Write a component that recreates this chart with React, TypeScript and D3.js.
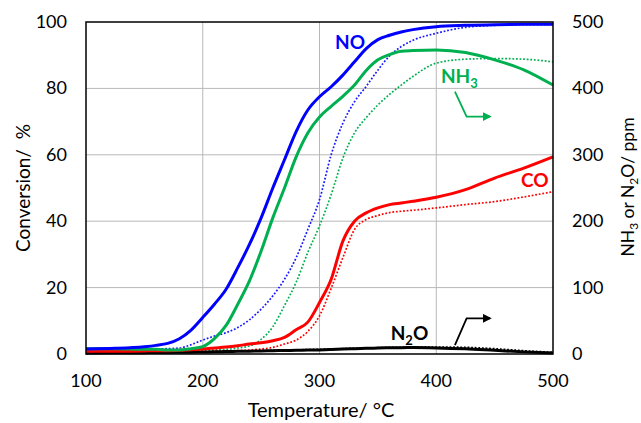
import React, { useEffect, useRef } from "react";
import * as d3 from "d3";

// temperatures (°C) shared by every series
const temps = [100, 125, 150, 160, 170, 180, 190, 200, 210, 220, 230, 240, 250, 260, 270, 280, 290, 300, 310, 320, 330, 340, 350, 360, 370, 380, 400, 425, 450, 475, 500];

// conversion, %
const noSolid = [1.5, 1.7, 2.2, 2.6, 3.2, 4.6, 7.2, 11, 15, 19.5, 26, 33, 41, 50, 58.5, 67, 73.5, 77.5, 80.5, 84, 88, 92, 94.7, 96, 97, 97.7, 98.6, 99, 99.2, 99.3, 99.3];
const noDotted = [1.0, 1.1, 1.3, 1.5, 1.6, 1.8, 2.8, 4.2, 5.4, 6.4, 8, 10.3, 13.5, 17.5, 22.5, 29, 37.5, 46.5, 60, 69.5, 76, 80.6, 85.5, 89.8, 92.6, 94.5, 96.6, 98.4, 99, 99.2, 99.2];
const coSolid = [0.8, 0.8, 0.9, 1.0, 1.0, 1.1, 1.3, 1.5, 1.8, 2.1, 2.5, 3.0, 3.4, 4.0, 5.0, 7.3, 9.6, 15.5, 22.5, 34, 40, 42.5, 44, 45, 45.5, 46, 47.2, 49.5, 53, 56, 59.4];
const coDotted = [0.5, 0.5, 0.5, 0.5, 0.5, 0.5, 0.6, 0.7, 0.8, 0.9, 1.0, 1.2, 1.5, 2.0, 3.0, 4.2, 6.8, 11.5, 19.8, 29, 37.5, 40.5, 41.7, 42.6, 43.0, 43.3, 44.0, 45.0, 45.9, 47.3, 48.9];

// outlet concentration, ppm
const nh3Solid = [8, 8, 7, 7, 6, 6, 8, 11, 23, 43, 75, 110, 155, 205, 250, 297, 333, 357, 373, 388, 405, 427, 443, 451, 456, 457, 458, 454, 443, 428, 405];
const nh3Dotted = [6, 6, 5.5, 5, 5, 5, 5, 5.5, 6, 7, 9, 12, 22, 41, 73, 108, 153, 193, 240, 295, 333, 356, 375, 391, 405, 418, 438, 444, 445, 444, 440];
const n2oSolid = [1.5, 1.8, 2, 2.2, 2.4, 2.6, 2.8, 3, 3.3, 3.6, 4, 4.3, 4.6, 5, 5.3, 5.6, 5.9, 6.2, 6.8, 7.4, 8, 8.5, 9, 9.4, 9.6, 9.7, 9.2, 7.8, 5.5, 3.2, 1.5];
const n2oDotted = [1, 1.2, 1.5, 1.8, 2, 2.3, 2.6, 3, 3.4, 3.8, 4.2, 4.6, 5, 5.4, 5.8, 6.2, 6.6, 7, 7.5, 8, 8.5, 9, 9.5, 9.9, 10.2, 10.4, 10.5, 10, 8, 5, 2.5];

const xTicks = [100, 200, 300, 400, 500];
const leftTicks = [0, 20, 40, 60, 80, 100];
const rightTicks = [0, 100, 200, 300, 400, 500];

const FONT = "Lato, 'Open Sans', sans-serif";

export default function App() {
  const ref = useRef<SVGSVGElement>(null);
  const width = 641;
  const height = 423;

  useEffect(() => {
    document.body.style.margin = "0";
    const svg = d3.select(ref.current);
    svg.selectAll("*").remove();

    const x = d3.scaleLinear().domain([100, 500]).range([86, 553]);
    const yL = d3.scaleLinear().domain([0, 100]).range([354, 22]);
    const yR = d3.scaleLinear().domain([0, 500]).range([354, 22]);

    // grid
    svg
      .selectAll("line.vgrid")
      .data(xTicks.slice(1, -1))
      .enter()
      .append("line")
      .attr("x1", d => x(d))
      .attr("x2", d => x(d))
      .attr("y1", yL(0))
      .attr("y2", yL(100))
      .style("stroke", "#b8b8b8")
      .style("stroke-width", 1);

    svg
      .selectAll("line.hgrid")
      .data(leftTicks.slice(1, -1))
      .enter()
      .append("line")
      .attr("x1", x(100))
      .attr("x2", x(500))
      .attr("y1", d => yL(d))
      .attr("y2", d => yL(d))
      .style("stroke", "#b8b8b8")
      .style("stroke-width", 1);

    // series
    const series = [
      { vals: noDotted, scale: yL, color: "#1a1aff", dash: true },
      { vals: nh3Dotted, scale: yR, color: "#00b050", dash: true },
      { vals: coDotted, scale: yL, color: "#ff0000", dash: true },
      { vals: n2oDotted, scale: yR, color: "#000000", dash: true },
      { vals: n2oSolid, scale: yR, color: "#000000", dash: false },
      { vals: coSolid, scale: yL, color: "#ff0000", dash: false },
      { vals: nh3Solid, scale: yR, color: "#00b050", dash: false },
      { vals: noSolid, scale: yL, color: "#0000ff", dash: false },
    ];

    series.forEach(s => {
      const line = d3
        .line<number>()
        .x((d, i) => x(temps[i]))
        .y(d => s.scale(d))
        .curve(d3.curveMonotoneX);
      svg
        .append("path")
        .attr("d", line(s.vals))
        .style("fill", "none")
        .style("stroke", s.color)
        .style("stroke-width", s.dash ? 1.7 : 3)
        .style("stroke-dasharray", s.dash ? "1.8,1.8" : null);
    });

    // frame
    svg
      .append("rect")
      .attr("x", x(100))
      .attr("y", yL(100))
      .attr("width", x(500) - x(100))
      .attr("height", yL(0) - yL(100))
      .style("fill", "none")
      .style("stroke", "#000")
      .style("stroke-width", 1.5);

    // tick labels
    svg
      .selectAll("text.lt")
      .data(leftTicks)
      .enter()
      .append("text")
      .attr("x", 67)
      .attr("y", d => yL(d) + 6)
      .attr("text-anchor", "end")
      .style("font-size", "18px")
      .style("font-family", FONT)
      .text(d => d);

    svg
      .selectAll("text.rt")
      .data(rightTicks)
      .enter()
      .append("text")
      .attr("x", 572)
      .attr("y", d => yR(d) + 6)
      .style("font-size", "18px")
      .style("font-family", FONT)
      .text(d => d);

    svg
      .selectAll("text.xt")
      .data(xTicks)
      .enter()
      .append("text")
      .attr("x", d => x(d))
      .attr("y", 387)
      .attr("text-anchor", "middle")
      .style("font-size", "18px")
      .style("font-family", FONT)
      .text(d => d);

    // axis titles
    svg
      .append("text")
      .attr("x", 321)
      .attr("y", 417)
      .attr("text-anchor", "middle")
      .style("font-size", "20px")
      .style("font-family", FONT)
      .text("Temperature/ \u00b0C");

    svg
      .append("text")
      .attr("transform", "translate(30,188) rotate(-90)")
      .attr("text-anchor", "middle")
      .style("font-size", "19px")
      .style("font-family", FONT)
      .text("Conversion/\u00a0 %");

    const rt = svg
      .append("text")
      .attr("transform", "translate(634,187) rotate(-90)")
      .attr("text-anchor", "middle")
      .style("font-size", "17.5px")
      .style("font-family", FONT);
    rt.append("tspan").text("NH");
    rt.append("tspan").attr("dy", 4).style("font-size", "12px").text("3");
    rt.append("tspan").attr("dy", -4).text(" or N");
    rt.append("tspan").attr("dy", 4).style("font-size", "12px").text("2");
    rt.append("tspan").attr("dy", -4).text("O/ ppm");

    // annotations
    const label = (t: number, v: number, color: string, main: string, sub?: string, rest?: string) => {
      const tx = svg
        .append("text")
        .attr("x", x(t))
        .attr("y", yL(v))
        .style("font-size", "19px")
        .style("font-weight", "bold")
        .style("font-family", FONT)
        .style("fill", color);
      tx.append("tspan").text(main);
      if (sub) {
        tx.append("tspan").attr("dy", 5).style("font-size", "13px").text(sub);
        if (rest) tx.append("tspan").attr("dy", -5).text(rest);
      }
    };
    label(313.3, 91.9, "#0000ff", "NO");
    label(404, 81.6, "#00b050", "NH", "3");
    label(472.6, 50.3, "#ff0000", "CO");
    label(361, 4.2, "#000000", "N", "2", "O");

    const defs = svg.append("defs");
    const arrowPts: [string, number[][]][] = [
      ["#00b050", [[416, 79], [426, 71.5], [446, 71.5]]],
      ["#000000", [[416, 2.7], [426, 10.75], [446, 10.75]]],
    ];
    arrowPts.forEach(([color, pts], i) => {
      defs
        .append("marker")
        .attr("id", "arr" + i)
        .attr("viewBox", "0 0 10 10")
        .attr("refX", 8)
        .attr("refY", 5)
        .attr("markerWidth", 5)
        .attr("markerHeight", 5)
        .attr("orient", "auto")
        .attr("markerUnits", "strokeWidth")
        .append("path")
        .attr("d", "M0,0L10,5L0,10z")
        .style("fill", color);
      svg
        .append("path")
        .attr("d", d3.line()(pts.map(p => [x(p[0]), yL(p[1])] as [number, number])))
        .style("fill", "none")
        .style("stroke", color)
        .style("stroke-width", 1.8)
        .attr("marker-end", `url(#arr${i})`);
    });
  }, []);

  return <svg ref={ref} width={width} height={height} style={{ display: "block", background: "#fff" }} />;
}
